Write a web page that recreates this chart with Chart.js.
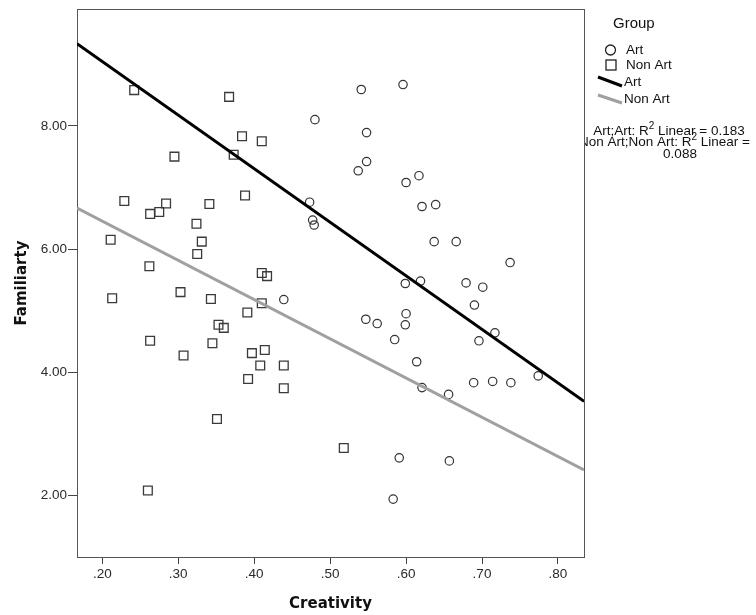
<!DOCTYPE html>
<html>
<head>
<meta charset="utf-8">
<title>Familiarty by Creativity</title>
<script src="https://cdn.jsdelivr.net/npm/chart.js@4.4.0/dist/chart.umd.min.js"></script>
<style>
  body { margin: 0; background: #fff; }
  #wrap { width: 756px; height: 615px; }
</style>
</head>
<body>
<div id="wrap"><canvas id="mycanvas" width="756" height="615"></canvas></div>
<script>
// ---- data ----
var groups = ["Art", "Non Art"];
var rSquared = [0.183, 0.088];

var artX = [0.439,0.473,0.477,0.479,0.480,0.541,0.596,0.548,0.548,0.537,0.600,0.617,0.621,0.639,0.637,0.666,0.737,0.599,0.619,0.679,
            0.701,0.690,0.547,0.562,0.600,0.599,0.585,0.717,0.696,0.614,0.621,0.656,0.689,0.714,0.738,0.774,0.591,0.657,0.583];
var artY = [5.18,6.76,6.47,6.39,8.10,8.59,8.67,7.89,7.42,7.27,7.08,7.19,6.69,6.72,6.12,6.12,5.78,5.44,5.48,5.45,
            5.38,5.09,4.86,4.79,4.95,4.77,4.53,4.64,4.51,4.17,3.75,3.64,3.83,3.85,3.83,3.94,2.61,2.56,1.94];

var nonArtX = [0.242,0.367,0.384,0.410,0.295,0.373,0.388,0.229,0.263,0.275,0.284,0.341,0.324,0.331,0.325,0.211,0.262,0.410,0.417,
               0.213,0.303,0.343,0.410,0.391,0.353,0.360,0.263,0.345,0.307,0.397,0.414,0.408,0.439,0.392,0.439,0.351,0.260,0.518];
var nonArtY = [8.58,8.47,7.83,7.75,7.50,7.53,6.87,6.78,6.57,6.60,6.74,6.73,6.41,6.12,5.92,6.15,5.72,5.61,5.56,
               5.20,5.30,5.19,5.12,4.97,4.77,4.72,4.51,4.47,4.27,4.31,4.36,4.11,4.11,3.89,3.74,3.24,2.08,2.77];

// fit lines, ends at the axis limits
var fitX = [0.1667, 0.8343];
var artFit = [9.334, 3.527];
var nonArtFit = [6.664, 2.412];

var xTicks = [0.2, 0.3, 0.4, 0.5, 0.6, 0.7, 0.8];
var yTicks = [2, 4, 6, 8];
var xTitle = "Creativity";
var yTitle = "Familiarty";
var legendTitle = "Group";

// ---- helpers ----
function pairs(xs, ys) {
  var out = [];
  for (var i = 0; i < xs.length; i++) out.push({ x: xs[i], y: ys[i] });
  return out;
}

var tickFont = { family: "'Liberation Sans', Arial, sans-serif", size: 13.5 };
var titleFont = { family: "'DejaVu Sans', Verdana, sans-serif", size: 15, weight: "bold" };

// frame round the plot
var framePlugin = {
  id: "frame",
  beforeDatasetsDraw: function(chart) {
    var a = chart.chartArea, ctx = chart.ctx;
    ctx.save();
    ctx.strokeStyle = "#555";
    ctx.lineWidth = 1;
    ctx.strokeRect(Math.round(a.left) + 0.5, Math.round(a.top) + 0.5,
                   Math.round(a.right - a.left), Math.round(a.bottom - a.top));
    ctx.restore();
  }
};

function r2Line(ctx, before, after, x, y, align) {
  var mainF = "13.5px 'Liberation Sans', Arial, sans-serif";
  var supF = "10px 'Liberation Sans', Arial, sans-serif";
  ctx.font = mainF; var w1 = ctx.measureText(before).width; var w3 = ctx.measureText(after).width;
  ctx.font = supF; var w2 = ctx.measureText("2").width;
  var total = w1 + w2 + w3;
  var sx = align === "right" ? x - total : x - total / 2;
  ctx.textAlign = "left";
  ctx.font = mainF; ctx.fillText(before, sx, y);
  ctx.font = supF; ctx.fillText("2", sx + w1, y - 5);
  ctx.font = mainF; ctx.fillText(after, sx + w1 + w2, y);
}

var legendPlugin = {
  id: "groupLegend",
  afterDraw: function(chart) {
    var ctx = chart.ctx;
    ctx.save();
    ctx.beginPath(); ctx.rect(585, 0, 171, 615); ctx.clip();
    ctx.fillStyle = "#111";
    ctx.textBaseline = "middle";
    ctx.textAlign = "left";
    ctx.font = "15px 'Liberation Sans', Arial, sans-serif";
    ctx.fillText(legendTitle, 613, 24);

    ctx.strokeStyle = "#222";
    ctx.lineWidth = 1.3;
    ctx.beginPath(); ctx.arc(610.5, 50, 5, 0, Math.PI * 2); ctx.stroke();
    ctx.strokeRect(606, 60, 10, 10);

    ctx.lineWidth = 3;
    ctx.strokeStyle = "#000";
    ctx.beginPath(); ctx.moveTo(598, 77); ctx.lineTo(622, 86); ctx.stroke();
    ctx.strokeStyle = "#a0a0a0";
    ctx.beginPath(); ctx.moveTo(598, 95); ctx.lineTo(622, 103); ctx.stroke();

    ctx.font = "13.5px 'Liberation Sans', Arial, sans-serif";
    ctx.fillText(groups[0], 626, 50);
    ctx.fillText(groups[1], 626, 65);
    ctx.fillText(groups[0], 624, 82);
    ctx.fillText(groups[1], 624, 99);

    r2Line(ctx, groups[0] + ";" + groups[0] + ": R", " Linear = " + rSquared[0].toFixed(3), 669, 131, "center");
    r2Line(ctx, groups[1] + ";" + groups[1] + ": R", " Linear =", 750, 142.5, "right");
    ctx.font = "13.5px 'Liberation Sans', Arial, sans-serif";
    ctx.textAlign = "center";
    ctx.fillText(rSquared[1].toFixed(3), 680, 154);
    ctx.restore();
  }
};

var config = {
  type: "scatter",
  data: {
    datasets: [
      {
        type: "line", label: groups[0] + " fit", order: 0,
        data: pairs(fitX, artFit),
        borderColor: "#000", borderWidth: 3, pointRadius: 0, fill: false
      },
      {
        type: "line", label: groups[1] + " fit", order: 0,
        data: pairs(fitX, nonArtFit),
        borderColor: "#a0a0a0", borderWidth: 3, pointRadius: 0, fill: false
      },
      {
        label: groups[0], order: 1,
        data: pairs(artX, artY),
        pointStyle: "circle", pointRadius: 4.2, pointBorderWidth: 1.2,
        borderColor: "#333", backgroundColor: "rgba(255,255,255,0)"
      },
      {
        label: groups[1], order: 1,
        data: pairs(nonArtX, nonArtY),
        pointStyle: "rect", pointRadius: 6.2, pointBorderWidth: 1.3,
        borderColor: "#3a3a3a", backgroundColor: "rgba(255,255,255,0)"
      }
    ]
  },
  options: {
    responsive: false,
    animation: false,
    layout: { padding: { top: 6, right: 172, left: 0, bottom: 0 } },
    plugins: { legend: { display: false }, tooltip: { enabled: false } },
    scales: {
      x: {
        type: "linear", min: fitX[0], max: fitX[1],
        afterBuildTicks: function(s) { s.ticks = xTicks.map(function(v) { return { value: v }; }); },
        afterFit: function(s) { s.height = 58; },
        ticks: {
          font: tickFont, color: "#2a2a2a", padding: 2, maxRotation: 0,
          callback: function(v) { return v.toFixed(2).replace(/^0/, ""); }
        },
        grid: { drawOnChartArea: false, drawTicks: true, tickLength: 7, color: "#444" },
        border: { display: false },
        title: { display: true, text: xTitle, font: titleFont, color: "#111", padding: { top: 0, bottom: 2 } }
      },
      y: {
        type: "linear", min: 1.0, max: 9.895,
        afterBuildTicks: function(s) { s.ticks = yTicks.map(function(v) { return { value: v }; }); },
        afterFit: function(s) { s.width = 77; },
        ticks: {
          font: tickFont, color: "#2a2a2a", padding: 1,
          callback: function(v) { return v.toFixed(2); }
        },
        grid: { drawOnChartArea: false, drawTicks: true, tickLength: 9, color: "#444" },
        border: { display: false },
        title: { display: true, text: yTitle, font: titleFont, color: "#111", padding: { top: 13, bottom: 0 } }
      }
    }
  },
  plugins: [framePlugin, legendPlugin]
};

window.onload = function() {
  new Chart(document.getElementById("mycanvas").getContext("2d"), config);
};
</script>
</body>
</html>
